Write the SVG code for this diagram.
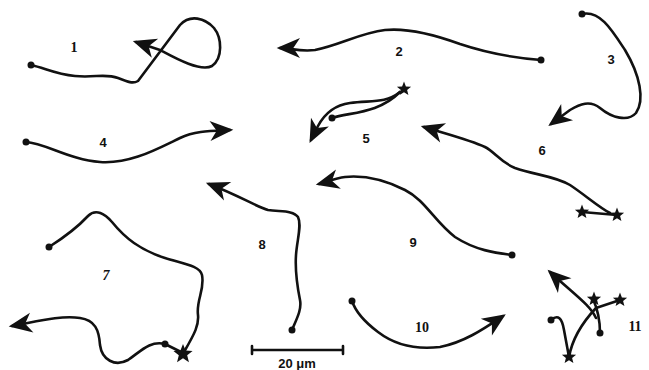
<svg xmlns="http://www.w3.org/2000/svg" width="649" height="370" viewBox="0 0 649 370">
<defs>
<style>
.trk{fill:none;stroke:#111;stroke-width:2.6;stroke-linecap:round;stroke-linejoin:round}
.arr{marker-end:url(#ah)}
.dot{fill:#111}
.lbl{font-family:"Liberation Sans",Arial,sans-serif;font-weight:bold;font-size:13px;fill:#111;text-anchor:middle}
.lbls{font-family:"Liberation Serif","Times New Roman",serif;font-weight:bold;font-size:14px;fill:#111;text-anchor:middle}
</style>
<marker id="ah" markerUnits="userSpaceOnUse" markerWidth="30" markerHeight="30" refX="0" refY="0" viewBox="-16 -8 18 16" orient="auto" overflow="visible">
<path d="M2,0 L-12,-6 L-8,0 L-12,6 Z" fill="#111"/>
</marker>
<path id="star" d="M0,-7.5 L1.9,-2.6 L7.1,-2.3 L3.1,1 L4.4,6.1 L0,3.2 L-4.4,6.1 L-3.1,1 L-7.1,-2.3 L-1.9,-2.6 Z" fill="#111"/>
</defs>
<rect width="649" height="370" fill="#fff"/>

<g id="track1">
<path class="trk arr" d="M31,65 C45,68 55,74 75,76 C95,78 105,73 118,78 C128,82 133,84 138,81 C150,65 165,45 180,25 C190,14 205,18 214,28 C222,38 223,58 212,66 C200,72 175,58 160,50 L136,42"/>
<circle class="dot" cx="31" cy="65" r="3.5"/>
<text class="lbls" x="74" y="52">1</text>
</g>

<g id="track2">
<path class="trk arr" d="M541,60 C515,58 490,54 460,44 C430,33 405,28 385,30 C360,33 340,45 315,50 C300,52 290,48 280,48"/>
<circle class="dot" cx="541" cy="60" r="3.5"/>
<text class="lbl" x="399" y="56">2</text>
</g>

<g id="track3">
<path class="trk arr" d="M582,14 C600,10 612,30 625,50 C640,75 645,100 636,113 C628,122 612,118 600,108 C590,100 580,104 570,110 L551,124"/>
<circle class="dot" cx="582" cy="14" r="3.5"/>
<text class="lbl" x="611" y="64">3</text>
</g>

<g id="track4">
<path class="trk arr" d="M26,142 C45,143 70,160 100,162 C130,164 155,150 180,138 C195,131 210,131 230,130"/>
<circle class="dot" cx="26" cy="142" r="3.5"/>
<text class="lbl" x="103" y="147">4</text>
</g>

<g id="track5">
<path class="trk" d="M332,118 C350,112 378,114 400,92"/>
<path class="trk arr" d="M400,92 C385,104 370,100 350,103 C335,105 325,113 318,126 L311,140"/>
<circle class="dot" cx="332" cy="118" r="3.5"/>
<use href="#star" x="404" y="89"/>
<text class="lbl" x="366" y="143">5</text>
</g>

<g id="track6">
<path class="trk" d="M582,212 L617,215"/>
<path class="trk arr" d="M610,213 C600,208 585,195 570,185 C555,176 535,175 515,168 C500,162 495,152 485,147 C470,140 450,135 424,127"/>
<use href="#star" x="582" y="212"/>
<use href="#star" x="617" y="215"/>
<text class="lbl" x="542" y="155">6</text>
</g>

<g id="track7">
<path class="trk" d="M49,247 C60,240 75,230 88,216 C96,208 105,214 112,222 C125,238 140,250 165,258 C185,264 200,266 202,275 C205,290 196,300 198,315 C199,325 195,333 184,352"/>
<path class="trk arr" d="M183,353 L165,344 C150,340 140,352 128,360 C115,367 102,360 100,345 C99,330 95,320 80,318 C60,315 35,322 12,326"/>
<circle class="dot" cx="49" cy="247" r="3.5"/>
<circle class="dot" cx="165" cy="344" r="3.5"/>
<use href="#star" transform="translate(183,354) scale(1.35)"/>
<text class="lbls" x="106" y="280" font-style="italic">7</text>
</g>

<g id="track8">
<path class="trk arr" d="M292,330 C296,320 302,310 300,300 C297,285 295,270 296,255 C297,240 302,225 298,217 C293,210 280,212 268,210 C255,206 240,196 209,184"/>
<circle class="dot" cx="292" cy="330" r="3.5"/>
<text class="lbl" x="262" y="249">8</text>
</g>

<g id="track9">
<path class="trk arr" d="M512,255 C495,253 475,250 455,237 C435,222 425,200 405,190 C385,180 365,175 345,177 C335,178 327,182 319,184"/>
<circle class="dot" cx="512" cy="255" r="3.5"/>
<text class="lbl" x="413" y="247">9</text>
</g>

<g id="track10">
<path class="trk arr" d="M352,301 C355,310 362,320 378,332 C395,345 415,350 440,347 C465,342 485,328 503,316"/>
<circle class="dot" cx="352" cy="301" r="3.5"/>
<text class="lbls" x="422" y="332">10</text>
</g>

<g id="track11">
<path class="trk" d="M551,320 C558,314 562,318 564,330 L569,357"/>
<path class="trk" d="M569,357 C572,340 580,325 596,308 L620,300"/>
<path class="trk" d="M593,299 C598,310 600,320 600,333"/>
<path class="trk arr" d="M596,318 C590,305 575,295 550,272"/>
<circle class="dot" cx="551" cy="320" r="3.5"/>
<circle class="dot" cx="600" cy="333" r="3.5"/>
<use href="#star" x="569" y="357"/>
<use href="#star" x="594" y="299"/>
<use href="#star" x="620" y="300"/>
<text class="lbls" x="635" y="331">11</text>
</g>

<g id="scalebar">
<path class="trk" d="M252,350 L343,350 M252,346 L252,354 M343,346 L343,354"/>
<text class="lbl" x="297" y="368" font-size="14">20 μm</text>
</g>
</svg>
